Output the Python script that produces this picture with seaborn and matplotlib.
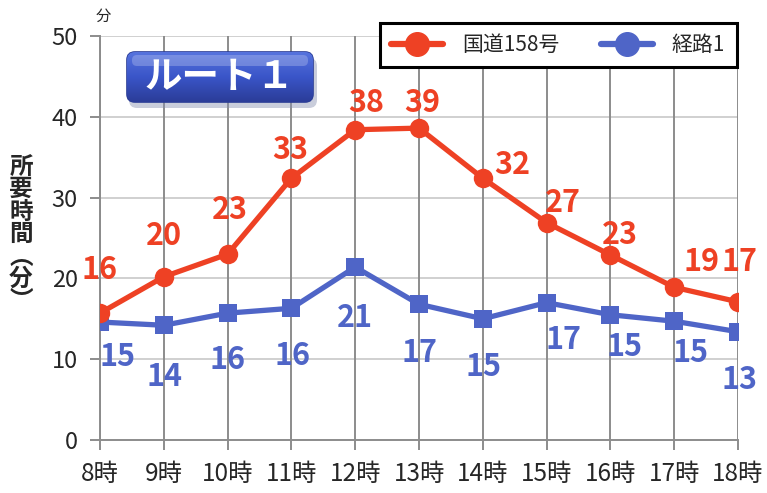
import numpy as np
import pandas as pd
import matplotlib
matplotlib.use("Agg")
import matplotlib.pyplot as plt
import seaborn as sns
from matplotlib.patches import FancyBboxPatch
from matplotlib.lines import Line2D
from matplotlib.colors import LinearSegmentedColormap

# ---- data ----
hours = ["8時", "9時", "10時", "11時", "12時", "13時", "14時", "15時", "16時", "17時", "18時"]
route158 = [15.7, 20.2, 23.0, 32.4, 38.4, 38.6, 32.4, 26.9, 22.9, 18.9, 17.1]
route158_labels = ["16", "20", "23", "33", "38", "39", "32", "27", "23", "19", "17"]
keiro1 = [14.6, 14.2, 15.7, 16.3, 21.4, 16.8, 15.0, 17.0, 15.5, 14.7, 13.4]
keiro1_labels = ["15", "14", "16", "16", "21", "17", "15", "17", "15", "15", "13"]
yticks = [0, 10, 20, 30, 40, 50]
series_names = ["国道158号", "経路1"]

RED = "#EE4124"
BLUE = "#4F65C7"

sns.set_theme(style="white")
plt.rcParams["font.family"] = ["Noto Sans CJK JP", "DejaVu Sans"]

fig = plt.figure(figsize=(7.67, 4.93), dpi=100)
ax = fig.add_axes([100/767, 1-440/493, 638/767, 404/493])

df = pd.DataFrame({
    "hour": list(range(len(hours))) * 2,
    "value": route158 + keiro1,
    "series": [series_names[0]] * len(hours) + [series_names[1]] * len(hours),
})

sns.lineplot(data=df[df.series == series_names[0]], x="hour", y="value", ax=ax,
             color=RED, lw=3.8, marker="o", markersize=14, markeredgewidth=0,
             legend=False, zorder=4)
sns.lineplot(data=df[df.series == series_names[1]], x="hour", y="value", ax=ax,
             color=BLUE, lw=3.8, marker="s", markersize=13.5, markeredgewidth=0,
             legend=False, zorder=3)

ax.set_xlim(0, len(hours) - 1)
ax.set_ylim(0, 50)
ax.set_yticks(yticks)
ax.set_xticks(range(len(hours)))
ax.set_xticklabels(hours, fontsize=17.5)
ax.set_yticklabels([str(v) for v in yticks], fontsize=17)
ax.set_xlabel("")
ax.set_ylabel("")

# grid
for v in yticks[1:]:
    ax.axhline(v, color="#c8c8c8", lw=1.2, zorder=1)
for i in range(len(hours)):
    ax.axvline(i, color="#8c8c8c", lw=1.4, zorder=1)

for s in ["top", "right"]:
    ax.spines[s].set_visible(False)
ax.spines["left"].set_color("#8c8c8c")
ax.spines["left"].set_linewidth(1.4)
ax.spines["bottom"].set_color("#8c8c8c")
ax.spines["bottom"].set_linewidth(1.4)
ax.tick_params(axis="y", length=7, width=1.4, color="#8c8c8c", direction="out", pad=9)
ax.tick_params(axis="x", length=7, width=1.4, color="#8c8c8c", direction="out", pad=8)
ax.tick_params(axis="both", left=True, bottom=True)

# data labels
red_off = [(0, 43), (0, 41), (2, 44), (-1, 28), (11, 27), (3, 25), (29, 13), (16, 20), (9, 20), (27, 25), (2, 40)]
blue_off = [(18, -35), (1, -52), (0, -47), (1, -48), (0, -51), (1, -49), (1, -48), (17, -37), (14, -32), (16, -32), (2, -48)]
for i, (v, t) in enumerate(zip(route158, route158_labels)):
    ax.annotate(t, (i, v), xytext=red_off[i], textcoords="offset pixels",
                ha="center", va="center", color=RED, fontsize=22, fontweight="bold",
                zorder=6, annotation_clip=False)
for i, (v, t) in enumerate(zip(keiro1, keiro1_labels)):
    ax.annotate(t, (i, v), xytext=blue_off[i], textcoords="offset pixels",
                ha="center", va="center", color=BLUE, fontsize=22, fontweight="bold",
                zorder=6, annotation_clip=False)

# unit and y label
fig.text(103/767, 1-16/493, "分", fontsize=11, ha="center", va="center")
fig.text(21/767, 1-234/493, "所\n要\n時\n間\n︵\n分\n︶", fontsize=17, fontweight="bold",
         ha="center", va="center", linespacing=0.92)

# legend
handles = [Line2D([0], [0], color=RED, lw=4.5, marker="o", markersize=17),
           Line2D([0], [0], color=BLUE, lw=4.5, marker="o", markersize=17)]
leg = fig.legend(handles, series_names, loc="center", bbox_to_anchor=(558/767, 1-45/493),
                 ncol=2, fontsize=15, frameon=True, fancybox=False, handlelength=2.5,
                 columnspacing=2.0, borderpad=0.55, handletextpad=0.9)
leg.get_frame().set_edgecolor("black")
leg.get_frame().set_linewidth(2.2)
leg.get_frame().set_alpha(1)

# title button
bax = fig.add_axes([118/767, 1-110/493, 204/767, 66/493])
bax.set_xlim(0, 204)
bax.set_ylim(0, 66)
bax.axis("off")
shadow = FancyBboxPatch((11, 2), 188, 50, boxstyle="round,pad=0,rounding_size=8",
                        fc="#8890b0", ec="none", alpha=0.45)
bax.add_patch(shadow)
btn = FancyBboxPatch((9, 8), 186, 50, boxstyle="round,pad=0,rounding_size=8",
                     fc="#3b55c4", ec="#2a3c95", lw=1.2)
bax.add_patch(btn)
grad = np.linspace(0, 1, 100).reshape(-1, 1)
cm = LinearSegmentedColormap.from_list("b", ["#2b3c98", "#3a55c8", "#5673de"])
im = bax.imshow(grad, extent=(9, 195, 8, 58), origin="lower", cmap=cm, aspect="auto", zorder=2)
im.set_clip_path(btn)
hl = FancyBboxPatch((14, 44), 176, 11, boxstyle="round,pad=0,rounding_size=5",
                    fc="white", ec="none", alpha=0.22, zorder=3)
bax.add_patch(hl)
bax.text(102, 33, "ルート１", color="white", fontsize=27, fontweight="bold",
         ha="center", va="center", zorder=4)

fig.savefig("out.png", dpi=100)
